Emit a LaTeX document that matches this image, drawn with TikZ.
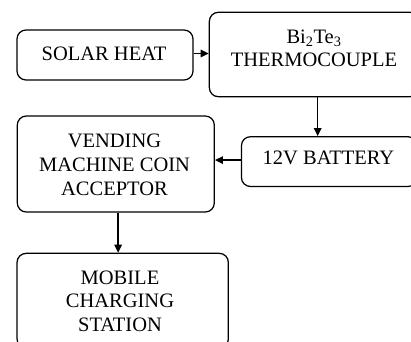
\documentclass[tikz,border=0pt]{standalone}
\usepackage{fontspec}
\setmainfont{Liberation Serif}
\usetikzlibrary{arrows.meta}
\begin{document}
\begin{tikzpicture}[x=1pt,y=-1pt,
  box/.style={draw, line width=1.25pt, rounded corners=9pt, inner sep=0pt},
  txt/.style={inner sep=0pt, anchor=base, font=\fontsize{20.5}{23.5}\selectfont},
  arr/.style={line width=1.25pt, -{Triangle[length=8pt,width=7.5pt]}}]
\useasboundingbox (0,0) rectangle (411,341);
\clip (0,0) rectangle (411,341);
% boxes
\node[box, minimum width=176pt, minimum height=50pt] (solar) at (105,55) {};
\node[box, minimum width=209.7pt, minimum height=84.4pt] (thermo) at (314.2,54.5) {};
\node[box, minimum width=175.5pt, minimum height=49.8pt] (battery) at (329.2,161.6) {};
\node[box, minimum width=197pt, minimum height=96pt] (vend) at (115.8,164) {};
\node[box, minimum width=211.3pt, minimum height=94.7pt] (mobile) at (122.7,300.7) {};
% texts
\node[txt] (solar1) at (104,60) {SOLAR HEAT};
\node[txt] (thermo1) at (314,43.3) {Bi\textsubscript{2}Te\textsubscript{3}};
\node[txt] (thermo2) at (314,66.7) {THERMOCOUPLE};
\node[txt] (batt1) at (328.5,164.3) {12V BATTERY};
\node[txt] (vend1) at (114.5,147) {VENDING};
\node[txt] (vend2) at (114.5,171) {MACHINE COIN};
\node[txt] (vend3) at (114.5,195.5) {ACCEPTOR};
\node[txt] (mob1) at (120,284) {MOBILE};
\node[txt] (mob2) at (120,307) {CHARGING};
\node[txt] (mob3) at (120,331) {STATION};
% connectors
\draw[arr] ([yshift=1.5pt]solar.east) -- ([yshift=1.5pt]solar.east -| thermo.west);
\draw[arr] ([xshift=3.5pt]thermo.south) -- ([xshift=3.5pt]thermo.south |- battery.north);
\draw[arr] ([yshift=1.5pt]battery.west) -- ([yshift=1.5pt]battery.west -| vend.east);
\draw[arr] ([xshift=2.3pt]vend.south) -- ([xshift=2.3pt]vend.south |- mobile.north);
\end{tikzpicture}
\end{document}
